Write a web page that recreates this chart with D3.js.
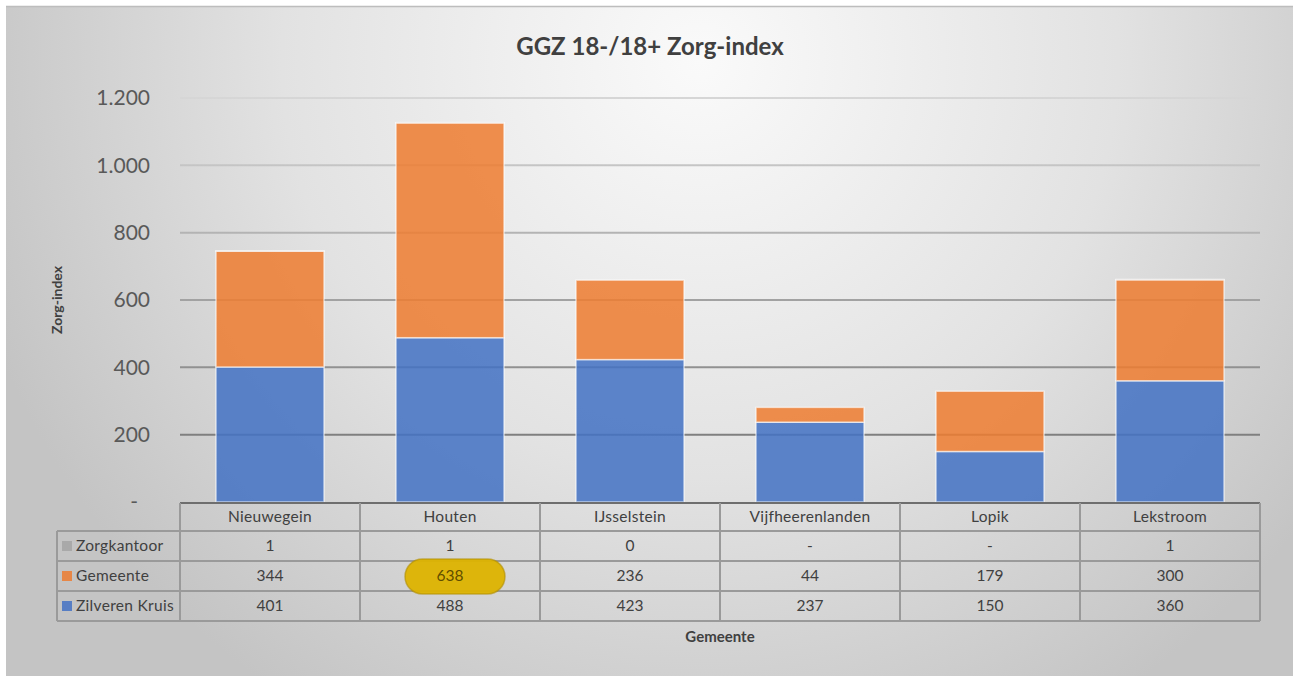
<!DOCTYPE html>
<html>
<head>
<meta charset="utf-8">
<script src="https://cdn.jsdelivr.net/npm/d3@7"></script>
<style>
  body { margin: 0; background: #fff; }
  text { font-family: Lato, "Liberation Sans", sans-serif; }
</style>
</head>
<body>
<script>
// data
var gemeenten = ["Nieuwegein", "Houten", "IJsselstein", "Vijfheerenlanden", "Lopik", "Lekstroom"];
var zilverenKruis = [401, 488, 423, 237, 150, 360];
var gemeente = [344, 638, 236, 44, 179, 300];
var zorgkantoor = [1, 1, 0, null, null, 1];
var seriesNames = ["Zilveren Kruis", "Gemeente", "Zorgkantoor"];
var yTicks = [0, 200, 400, 600, 800, 1000, 1200];

var width = 1293, height = 678;
var margin = {left: 180, right: 33, top: 98, bottom: 176};

var svg = d3.select("body").append("svg").attr("width", width).attr("height", height);
var defs = svg.append("defs");

// background gradient
var bg = defs.append("radialGradient").attr("id", "bg")
  .attr("gradientUnits", "userSpaceOnUse")
  .attr("cx", 700).attr("cy", 60).attr("r", 760);
bg.append("stop").attr("offset", "0%").attr("stop-color", "#fafafa");
bg.append("stop").attr("offset", "55%").attr("stop-color", "#e2e2e2");
bg.append("stop").attr("offset", "100%").attr("stop-color", "#c4c4c4");

var gridGrad = defs.append("linearGradient").attr("id", "gridGrad")
  .attr("gradientUnits", "userSpaceOnUse")
  .attr("x1", 0).attr("y1", 98).attr("x2", 0).attr("y2", 440);
gridGrad.append("stop").attr("offset", "0%").attr("stop-color", "#d6d6d6");
gridGrad.append("stop").attr("offset", "100%").attr("stop-color", "#7e7e7e");

svg.append("rect").attr("x", 6).attr("y", 6).attr("width", 1287).attr("height", 670)
  .attr("fill", "url(#bg)");
svg.append("line").attr("x1", 6).attr("x2", 1293).attr("y1", 6.5).attr("y2", 6.5)
  .attr("stroke", "#bdbdbd").attr("stroke-width", 1.5);

var x = d3.scaleBand().domain(gemeenten).range([margin.left, margin.left + 1080]).paddingInner(0.4).paddingOuter(0.2);
var xCol = d3.scaleBand().domain(gemeenten).range([margin.left, margin.left + 1080]);
var y = d3.scaleLinear().domain([0, 1200]).range([502, 98]);

// title
svg.append("text").attr("x", 650).attr("y", 55).attr("text-anchor", "middle")
  .attr("font-size", 24).attr("font-weight", "bold").attr("fill", "#404040")
  .text("GGZ 18-/18+ Zorg-index");

// gridlines
svg.append("g").selectAll("line").data(yTicks.filter(function(d){ return d > 0; }))
  .join("line")
  .attr("x1", margin.left).attr("x2", margin.left + 1080)
  .attr("y1", function(d){ return y(d); }).attr("y2", function(d){ return y(d); })
  .attr("stroke", "url(#gridGrad)").attr("stroke-width", 2);

// y axis labels
var yAxis = d3.axisLeft(y).tickValues(yTicks).tickSize(0).tickPadding(0)
  .tickFormat(function(d){ return d === 0 ? "-" : d3.format(",")(d).replace(/,/g, "."); });
var yg = svg.append("g").attr("transform", "translate(150,0)").call(yAxis);
yg.select(".domain").remove();
yg.selectAll("text").attr("font-size", 21).attr("fill", "#595959")
  .attr("font-family", "Lato, 'Liberation Sans', sans-serif")
  .attr("dx", function(d){ return d === 0 ? -12 : 0; });

// y axis title
svg.append("text").attr("transform", "translate(62,300) rotate(-90)")
  .attr("text-anchor", "middle").attr("font-size", 14).attr("font-weight", "bold")
  .attr("fill", "#404040").text("Zorg-index");

// stacked bars
var colors = {"Zilveren Kruis": "#4472C4", "Gemeente": "#ED7D31", "Zorgkantoor": "#A5A5A5"};
var rows = gemeenten.map(function(g, i){
  return {g: g, "Zilveren Kruis": zilverenKruis[i], "Gemeente": gemeente[i], "Zorgkantoor": zorgkantoor[i] || 0};
});
var stack = d3.stack().keys(seriesNames)(rows);
svg.append("g").selectAll("g").data(stack).join("g")
  .attr("fill", function(d){ return colors[d.key]; })
  .selectAll("rect").data(function(d){ return d; }).join("rect")
  .attr("x", function(d){ return x(d.data.g); })
  .attr("width", x.bandwidth())
  .attr("y", function(d){ return y(d[1]); })
  .attr("height", function(d){ return Math.max(0, y(d[0]) - y(d[1])); })
  .attr("fill-opacity", 0.86)
  .attr("stroke", "#ffffff").attr("stroke-opacity", 0.6).attr("stroke-width", 1.5);

// data table
var tableTop = 503, rowH = 30, headH = 28;
var legendX = 57;
var tableRows = [
  {name: "Zorgkantoor", values: zorgkantoor, color: "#A5A5A5"},
  {name: "Gemeente", values: gemeente, color: "#ED7D31"},
  {name: "Zilveren Kruis", values: zilverenKruis, color: "#4472C4"}
];
var table = svg.append("g");
var lineColor = "#9a9a9a";
var fs = 15.5;
table.append("line").attr("x1", margin.left).attr("x2", margin.left + 1080)
  .attr("y1", tableTop).attr("y2", tableTop).attr("stroke", "#6e6e6e").attr("stroke-width", 2);
var hy = [tableTop + headH, tableTop + headH + rowH, tableTop + headH + 2 * rowH, tableTop + headH + 3 * rowH];
table.selectAll("line.h").data(hy).join("line").attr("class", "h")
  .attr("x1", legendX).attr("x2", margin.left + 1080)
  .attr("y1", function(d){ return d; }).attr("y2", function(d){ return d; })
  .attr("stroke", lineColor).attr("stroke-width", 2);
var vx = gemeenten.map(function(g){ return xCol(g); }).concat([margin.left + 1080]);
table.selectAll("line.v").data(vx).join("line").attr("class", "v")
  .attr("x1", function(d){ return d; }).attr("x2", function(d){ return d; })
  .attr("y1", tableTop).attr("y2", hy[3])
  .attr("stroke", lineColor).attr("stroke-width", 2);
table.append("line").attr("x1", legendX).attr("x2", legendX)
  .attr("y1", hy[0]).attr("y2", hy[3]).attr("stroke", lineColor).attr("stroke-width", 2);

table.selectAll("text.head").data(gemeenten).join("text").attr("class", "head")
  .attr("x", function(d){ return xCol(d) + xCol.bandwidth() / 2; })
  .attr("y", tableTop + headH / 2 + 5)
  .attr("text-anchor", "middle").attr("font-size", fs).attr("fill", "#404040")
  .attr("letter-spacing", 0.3)
  .text(function(d){ return d; });

tableRows.forEach(function(r, ri){
  var cy = hy[ri] + rowH / 2;
  table.append("rect").attr("x", 62).attr("y", cy - 5).attr("width", 10).attr("height", 10)
    .attr("fill", r.color).attr("fill-opacity", 0.85);
  table.append("text").attr("x", 76).attr("y", cy + 5).attr("font-size", fs)
    .attr("letter-spacing", 0.3).attr("fill", "#404040").text(r.name);
  table.append("g").selectAll("text").data(r.values).join("text")
    .attr("x", function(d, i){ return xCol(gemeenten[i]) + xCol.bandwidth() / 2; })
    .attr("y", cy + 5).attr("text-anchor", "middle").attr("font-size", fs).attr("fill", "#404040")
    .text(function(d){ return d === null ? "-" : d; });
});

// highlight on Houten / Gemeente
var hlX = xCol("Houten") + xCol.bandwidth() / 2 + 5;
svg.append("rect").attr("x", hlX - 50).attr("y", hy[1] - 2).attr("width", 100).attr("height", 35)
  .attr("rx", 17.5).attr("ry", 17.5)
  .attr("fill", "#DDB300").attr("fill-opacity", 0.95)
  .attr("stroke", "#B08E00").attr("stroke-opacity", 0.6).attr("stroke-width", 1.5);
svg.append("text").attr("x", hlX - 5).attr("y", hy[1] + rowH / 2 + 5)
  .attr("text-anchor", "middle").attr("font-size", fs).attr("fill", "#4a3c00").attr("fill-opacity", 0.85)
  .text(gemeente[1]);

// x axis title
svg.append("text").attr("x", margin.left + 540).attr("y", 642)
  .attr("text-anchor", "middle").attr("font-size", 15).attr("font-weight", "bold")
  .attr("fill", "#404040").text("Gemeente");
</script>
</body>
</html>
